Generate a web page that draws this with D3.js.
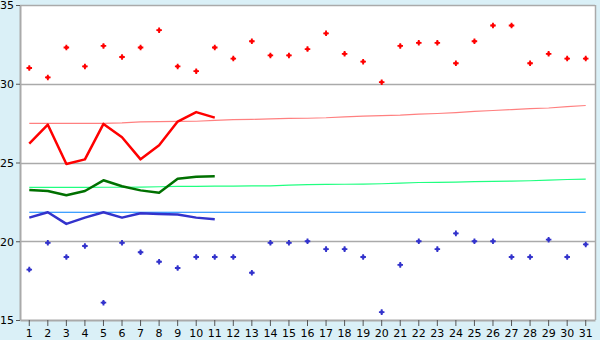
<!DOCTYPE html>
<html><head><meta charset="utf-8">
<script src="https://cdn.jsdelivr.net/npm/d3@7"></script>
<style>body{margin:0;background:#daf0f7;}svg{display:block;}</style>
</head><body><svg id="c" width="600" height="340"></svg>
<script>
const days = d3.range(1, 32).map(String);
const yTicks = [15, 20, 25, 30, 35];
const maxPoints = [31.0,30.4,32.3,31.1,32.4,31.7,32.3,33.4,31.1,30.8,32.3,31.6,32.7,31.8,31.8,32.2,33.2,31.9,31.4,30.1,32.4,32.6,32.6,31.3,32.7,33.7,33.7,31.3,31.9,31.6,31.6];
const minPoints = [18.2,19.9,19.0,19.7,16.1,19.9,19.3,18.7,18.3,19.0,19.0,19.0,18.0,19.9,19.9,20.0,19.5,19.5,19.0,15.5,18.5,20.0,19.5,20.5,20.0,20.0,19.0,19.0,20.1,19.0,19.8];
const maxLine = [26.2,27.4,24.9,25.2,27.45,26.6,25.2,26.1,27.6,28.2,27.85];
const avgLine = [23.25,23.19,22.92,23.19,23.87,23.49,23.23,23.08,23.97,24.1,24.12];
const minLine = [21.5,21.84,21.1,21.5,21.84,21.5,21.78,21.73,21.7,21.5,21.4];
const normMax = [27.49,27.49,27.49,27.49,27.49,27.52,27.58,27.60,27.61,27.62,27.67,27.72,27.74,27.77,27.80,27.81,27.84,27.90,27.94,27.98,28.01,28.07,28.11,28.17,28.24,28.30,28.36,28.42,28.46,28.55,28.62];
const normAvg = [23.42,23.42,23.42,23.42,23.43,23.43,23.44,23.46,23.48,23.49,23.50,23.50,23.51,23.52,23.56,23.60,23.61,23.62,23.63,23.65,23.69,23.73,23.74,23.76,23.79,23.80,23.82,23.84,23.88,23.92,23.94];
const normMin = [21.84,21.84,21.84,21.84,21.84,21.84,21.84,21.84,21.84,21.84,21.84,21.84,21.84,21.84,21.84,21.84,21.84,21.84,21.84,21.84,21.84,21.84,21.84,21.84,21.84,21.84,21.84,21.84,21.84,21.84,21.84];

const L = 20, R = 595, T = 5, B = 320;
const svg = d3.select('#c');
const x = d3.scaleBand().domain(days).range([L, R]);
const cx = d => x(d) + x.bandwidth() / 2;
const y = d3.scaleLinear().domain([15, 35]).range([B, T]);

svg.append('rect').attr('x', L).attr('y', T).attr('width', R - L).attr('height', B - T).attr('fill', '#fff');

// gridlines
svg.append('g').selectAll('line').data(yTicks.filter(v => v > 15)).join('line')
  .attr('x1', L).attr('x2', R).attr('y1', d => Math.round(y(d)) + 0.5).attr('y2', d => Math.round(y(d)) + 0.5)
  .attr('stroke', '#aaaaaa').attr('stroke-width', 1.5);
svg.append('line').attr('x1', R + 0.5).attr('x2', R + 0.5).attr('y1', T).attr('y2', B).attr('stroke', '#aaaaaa').attr('stroke-width', 1.5);

// axes
const xAxis = svg.append('g').attr('transform', `translate(0,${B})`)
  .call(d3.axisBottom(x).tickSize(6).tickSizeOuter(0).tickPadding(3));
const yAxis = svg.append('g').attr('transform', `translate(${L},0)`)
  .call(d3.axisLeft(y).tickValues(yTicks).tickSize(4).tickSizeOuter(0).tickPadding(2));
[xAxis, yAxis].forEach(g => {
  g.selectAll('path').attr('stroke', '#aaaaaa').attr('stroke-width', 2);
  g.selectAll('line').attr('stroke', '#555').attr('stroke-width', 1);
  g.selectAll('text').attr('font-family', 'DejaVu Sans').attr('font-size', 11).attr('fill', '#000');
});
yAxis.selectAll('text').attr('dy', '0.36em');

const line = d3.line().x((d, i) => cx(days[i])).y(d => y(d));
function drawLine(data, color, w) {
  svg.append('path').datum(data).attr('d', line).attr('fill', 'none')
    .attr('stroke', color).attr('stroke-width', w).attr('stroke-linejoin', 'round');
}
drawLine(normMax, '#ff8080', 1.2);
drawLine(normAvg, '#20ff80', 1.2);
drawLine(normMin, '#0080ff', 1.2);
drawLine(maxLine, '#ff0000', 2.5);
drawLine(avgLine, '#007000', 2.5);
drawLine(minLine, '#3333cc', 2.5);

const sym = d3.symbol().type(d3.symbolCross).size(17);
const sq = d3.symbol().type(d3.symbolSquare).size(8);
function drawPoints(data, color) {
  const g = svg.append('g').selectAll('g').data(data).join('g')
    .attr('transform', (d, i) => `translate(${cx(days[i])},${y(d)})`);
  g.append('path').attr('d', sym).attr('fill', color);
  g.append('path').attr('d', sq).attr('fill', color);
}
drawPoints(maxPoints, '#ff0000');
drawPoints(minPoints, '#3333cc');
</script></body></html>
